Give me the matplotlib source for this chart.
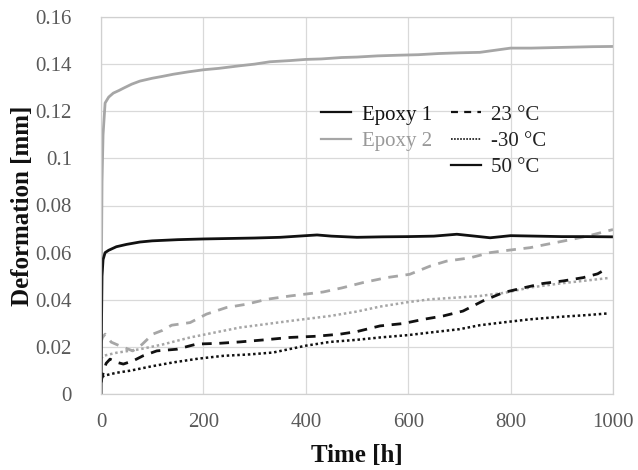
import matplotlib
matplotlib.use("Agg")
import matplotlib.pyplot as plt
from matplotlib.lines import Line2D

plt.rcParams['font.family'] = ['Liberation Serif', 'DejaVu Serif']
plt.rcParams['lines.scale_dashes'] = False

# ---- data ----
t_e2_50 = [0, 1, 2, 4, 8, 15, 24, 35, 44, 60, 76, 100, 120, 141, 170, 200, 230, 271, 300, 330,
           369, 400, 430, 470, 500, 540, 584, 620, 660, 700, 740, 780, 800, 840, 880, 920, 960, 1000]
v_e2_50 = [0.0, 0.06, 0.09, 0.11, 0.1235, 0.126, 0.1277, 0.1288, 0.1298, 0.1315, 0.1328, 0.134, 0.1348,
           0.1357, 0.1367, 0.1376, 0.1382, 0.1393, 0.14, 0.141, 0.1415, 0.142, 0.1422, 0.1428, 0.143,
           0.1435, 0.1438, 0.144, 0.1445, 0.1448, 0.145, 0.1462, 0.1468, 0.1468, 0.147, 0.1472, 0.1474, 0.1475]

t_e1_50 = [0, 1, 2, 4, 8, 15, 30, 50, 76, 100, 150, 200, 250, 300, 350, 400, 422, 450, 500, 550,
           600, 650, 695, 730, 760, 800, 850, 900, 950, 1000]
v_e1_50 = [0.0, 0.03, 0.05, 0.057, 0.06, 0.061, 0.0625, 0.0635, 0.0645, 0.065, 0.0655, 0.0658, 0.066,
           0.0662, 0.0665, 0.0672, 0.0675, 0.067, 0.0665, 0.0667, 0.0668, 0.067, 0.0678, 0.067, 0.0663,
           0.0672, 0.067, 0.0668, 0.0668, 0.0667]

t_e2_23 = [0, 3, 8, 20, 37, 62, 80, 101, 120, 138, 174, 206, 245, 284, 324, 369, 434, 470, 512, 558,
           603, 643, 675, 721, 760, 799, 838, 870, 903, 950, 1000]
v_e2_23 = [0.022, 0.024, 0.0254, 0.022, 0.0204, 0.0183, 0.021, 0.0254, 0.027, 0.0292, 0.0303, 0.0339,
           0.0367, 0.0381, 0.0402, 0.0416, 0.0433, 0.045, 0.0473, 0.0494, 0.0508, 0.0543, 0.0564, 0.0578,
           0.060, 0.0611, 0.0621, 0.0635, 0.0649, 0.067, 0.0698]

t_e2_m30 = [0, 4.5, 30, 76, 120, 174, 220, 271, 320, 369, 447, 500, 545, 600, 643, 700, 740, 790, 838,
            900, 950, 990]
v_e2_m30 = [0.015, 0.0162, 0.0175, 0.019, 0.021, 0.024, 0.026, 0.0282, 0.0296, 0.031, 0.0331, 0.035,
            0.0371, 0.039, 0.0402, 0.041, 0.0416, 0.043, 0.0452, 0.047, 0.0482, 0.0492]

t_e1_23 = [0, 3, 10, 17.6, 30, 43.6, 63, 82, 109, 148, 187, 230, 271, 320, 369, 420, 467, 500, 545,
           590, 630, 668, 707, 746, 785, 818, 863, 903, 942, 970, 990]
v_e1_23 = [0.005, 0.008, 0.013, 0.0148, 0.0135, 0.0127, 0.0141, 0.0162, 0.0183, 0.019, 0.0212, 0.0215,
           0.0221, 0.023, 0.024, 0.0245, 0.0254, 0.0265, 0.0289, 0.0299, 0.0317, 0.0331, 0.0352, 0.0395,
           0.043, 0.0447, 0.0469, 0.048, 0.0494, 0.051, 0.0535]

t_e1_m30 = [0, 4.5, 30, 57, 100, 141, 190, 239, 290, 336, 400, 447, 500, 545, 600, 643, 700, 740, 790,
            838, 900, 950, 990]
v_e1_m30 = [0.005, 0.0077, 0.009, 0.0099, 0.0118, 0.0134, 0.015, 0.0162, 0.0168, 0.0176, 0.0205,
            0.0221, 0.023, 0.024, 0.025, 0.0261, 0.0275, 0.0292, 0.0305, 0.0317, 0.0328, 0.0335, 0.0342]

x_ticks = [0, 200, 400, 600, 800, 1000]
y_ticks = [0, 0.02, 0.04, 0.06, 0.08, 0.1, 0.12, 0.14, 0.16]
y_tick_labels = ['0', '0.02', '0.04', '0.06', '0.08', '0.1', '0.12', '0.14', '0.16']

BLACK = '#111111'
GRAY = '#a6a6a6'
DASH = (0, (7, 5.5))
DOT = (0, (1.8, 2.0))

fig = plt.figure(figsize=(6.38, 4.70), dpi=100)
ax = fig.add_axes([101 / 638, 1 - 394 / 470, (613 - 101) / 638, (394 - 17) / 470])

ax.plot(t_e2_m30, v_e2_m30, color=GRAY, lw=1.8, ls=DOT, dash_capstyle='butt')
ax.plot(t_e2_23, v_e2_23, color=GRAY, lw=2.0, ls=DASH, dash_capstyle='butt')
ax.plot(t_e2_50, v_e2_50, color=GRAY, lw=2.0)
ax.plot(t_e1_m30, v_e1_m30, color=BLACK, lw=1.8, ls=DOT, dash_capstyle='butt')
ax.plot(t_e1_23, v_e1_23, color=BLACK, lw=2.0, ls=DASH, dash_capstyle='butt')
ax.plot(t_e1_50, v_e1_50, color=BLACK, lw=2.0)

ax.set_xlim(0, 1000)
ax.set_ylim(0, 0.16)
ax.set_xticks(x_ticks)
ax.set_yticks(y_ticks)
ax.set_yticklabels(y_tick_labels)
ax.grid(True, color='#d9d9d9', lw=0.9)
ax.set_axisbelow(True)
for s in ax.spines.values():
    s.set_color('#d0d0d0')
    s.set_linewidth(0.9)
ax.tick_params(length=0, labelsize=15, labelcolor='#595959')
ax.tick_params(axis='y', pad=21)
ax.tick_params(axis='x', pad=14)

ax.set_xlabel('Time [h]', fontsize=18, fontweight='bold', color=BLACK, labelpad=8)
ax.set_ylabel('Deformation [mm]', fontsize=18, fontweight='bold', color=BLACK, labelpad=1)

handles = [
    Line2D([], [], color=BLACK, lw=1.6),
    Line2D([], [], color=GRAY, lw=1.6),
    Line2D([], [], color='none'),
    Line2D([], [], color=BLACK, lw=1.6, ls=(0, (5, 4.5))),
    Line2D([], [], color=BLACK, lw=1.2, ls=(0, (1.2, 1.0))),
    Line2D([], [], color=BLACK, lw=1.6),
]
labels = ['Epoxy 1', 'Epoxy 2', '', '23 °C', '-30 °C', '50 °C']
leg = fig.legend(handles, labels, ncol=2, frameon=False, fontsize=15,
                 loc='upper left', bbox_to_anchor=(321 / 638, 1 - 105 / 470),
                 borderpad=0, borderaxespad=0, handlelength=1.45, handletextpad=0.5,
                 columnspacing=0.9, labelspacing=0.32)
cols = [BLACK, '#999999', BLACK, '#222222', '#222222', '#222222']
for txt, c in zip(leg.get_texts(), cols):
    txt.set_color(c)

fig.savefig('out.png', dpi=100)
